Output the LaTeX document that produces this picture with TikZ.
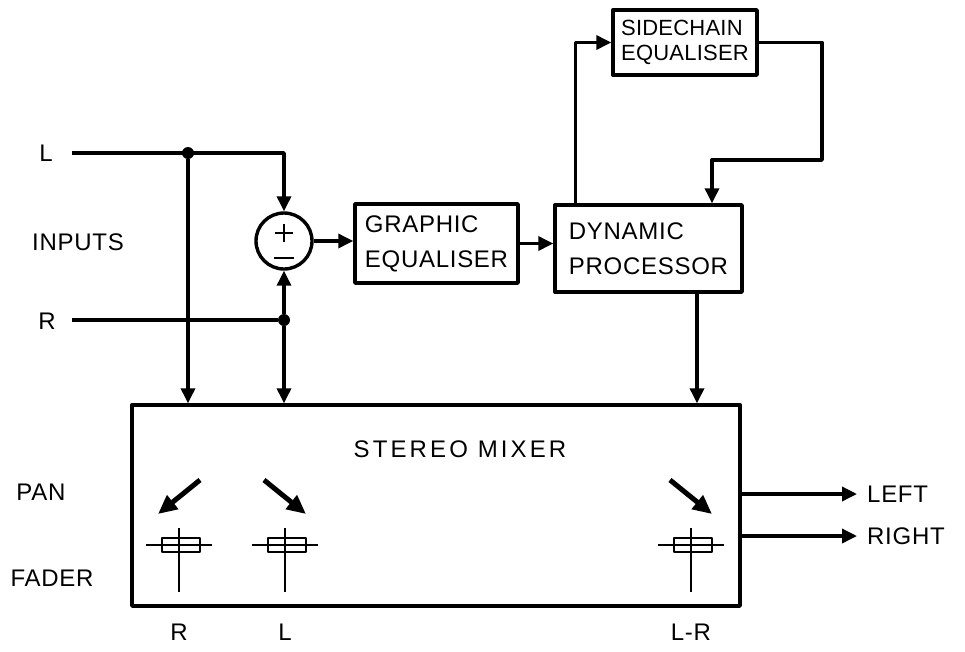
\documentclass[tikz,border=0pt]{standalone}
\usepackage{fontspec}
\setmainfont{Liberation Sans}[LetterSpace=3]
\usetikzlibrary{arrows.meta}

\begin{document}
\begin{tikzpicture}[x=1pt,y=-1pt,line join=round,
  wire/.style={line width=3.4pt},
  flow/.style={wire,-{Triangle[length=15pt,width=14pt]}},
  box/.style={draw,line width=3.4pt,align=left,inner sep=0pt,font=\fontsize{24}{35}\selectfont},
  lbl/.style={font=\fontsize{24}{28}\selectfont,inner sep=0pt},
  dot/.style={circle,fill,inner sep=0pt,minimum size=12pt}]
  \useasboundingbox (0,0) rectangle (965,651);
  % processing chain
  \node[draw,circle,line width=3.4pt,minimum size=56pt,inner sep=0pt] (sum) at (284,241) {};
  \draw[line width=2.8pt] (275,233) -- (293,233) (284,224) -- (284,242) (274,258) -- (294,258);
  \node[box,minimum width=163pt,minimum height=79pt] (geq) at (436.5,243.5) {GRAPHIC\\EQUALISER};
  \node[box,minimum width=187pt,minimum height=87pt] (dyn) at (648.5,248.5) {DYNAMIC\\PROCESSOR};
  \node[box,minimum width=144pt,minimum height=65pt,font=\fontsize{22}{30}\selectfont\addfontfeature{LetterSpace=1}] (sce) at (685,42.5) {\raisebox{-5pt}{SIDECHAIN}\\EQUALISER};
  \node[box,minimum width=608pt,minimum height=201pt] (mix) at (436,505.5) {};
  \node[lbl,font=\fontsize{24}{28}\selectfont\addfontfeature{LetterSpace=13}] (mixname) at (460,449) {STEREO MIXER};
  % inputs
  \node[lbl] (inl) at (46,153) {L};
  \node[lbl] (inputs) at (78,242) {INPUTS};
  \node[lbl] (inr) at (47,321) {R};
  \coordinate (startL) at (72,153);
  \coordinate (startR) at (72,320);
  \node[dot] (jl) at (188,153) {};
  \node[dot] (jr) at (sum.south |- startR) {};
  \draw[flow] (startL) -| (sum.north);
  \draw[flow] (jl) -- (jl |- mix.north);
  \draw[wire] (startR) -- (jr);
  \draw[flow] (jr) -- (sum.south);
  \draw[flow] (jr) -- (jr |- mix.north);
  \draw[flow] (sum.east) -- (sum.east -| geq.west);
  \draw[flow] (geq.east) -- (geq.east -| dyn.west);
  % sidechain loop
  \coordinate (ret) at (822,160);
  \draw[flow] ([xshift=22pt]dyn.north west) |- (sce.west);
  \draw[flow] (sce.east) -| (ret) -| ([xshift=63.5pt]dyn.north);
  \draw[flow] ([xshift=48.5pt]dyn.south) -- ([xshift=48.5pt]dyn.south |- mix.north);
  % outputs
  \node[lbl,anchor=west] (left) at (867,494) {LEFT};
  \node[lbl,anchor=west] (right) at (867,536) {RIGHT};
  \draw[flow] (mix.east |- left.west) -- ([xshift=-10pt]left.west);
  \draw[flow] (mix.east |- right.west) -- ([xshift=-10pt]right.west);
  % pan and faders
  \node[lbl] (pan) at (41,492) {PAN};
  \node[lbl] (fader) at (52,578) {FADER};
  \foreach \x/\s/\t in {179/R/-1,285/L/1,691/L-R/1}{
    \draw[line width=5pt,-{Triangle[length=19pt,width=17pt]}] (\x-21*\t,480) -- (\x+21*\t,514);
    \draw[line width=2.6pt] (\x-33,545) -- (\x+33,545) (\x,528) -- (\x,592);
    \draw[line width=2.6pt] (\x-17,538) rectangle (\x+21,552);
    \node[lbl] (ch\x) at (\x,632) {\s};
  }
\end{tikzpicture}
\end{document}
